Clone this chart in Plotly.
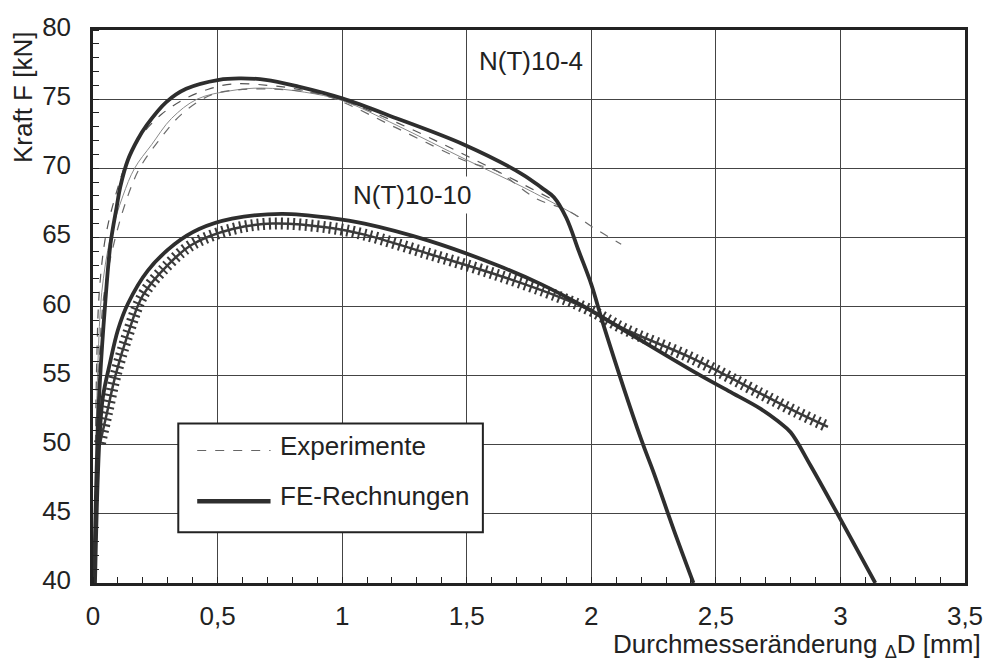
import plotly.graph_objects as go

# Kraft-Durchmesseränderungs-Kurven, Proben N(T)10-4 und N(T)10-10

# FE-Rechnung N(T)10-4
fe4_x = [0.004, 0.012, 0.019, 0.028, 0.048, 0.07, 0.095, 0.11, 0.14, 0.18, 0.215, 0.295, 0.374,
         0.506, 0.586, 0.693, 0.825, 1.0, 1.22, 1.49, 1.72, 1.80, 1.85, 1.90, 1.95, 2.0,
         2.05, 2.2, 2.25, 2.33, 2.41]
fe4_y = [40.0, 46.5, 51.1, 54.7, 60.0, 64.5, 67.2, 68.7, 70.6, 72.1, 73.1, 74.8, 75.75,
         76.4, 76.5, 76.4, 75.9, 75.05, 73.6, 71.7, 69.6, 68.6, 67.9, 66.4, 64.0, 61.6,
         58.6, 50.4, 48.0, 43.9, 40.0]

# FE-Rechnung N(T)10-10
fe10_x = [0.008, 0.018, 0.028, 0.04, 0.068, 0.1, 0.14, 0.22, 0.327, 0.426, 0.558, 0.757,
          0.956, 1.09, 1.35, 1.62, 1.80, 1.97, 2.13, 2.42, 2.55, 2.68, 2.75, 2.80, 2.88,
          3.14]
fe10_y = [40.0, 47.0, 51.1, 53.5, 55.9, 58.3, 60.2, 62.6, 64.5, 65.6, 66.35, 66.7,
          66.4, 66.0, 64.75, 63.0, 61.6, 60.0, 58.3, 55.2, 53.9, 52.6, 51.7, 50.9, 48.5,
          40.0]

# Experimente N(T)10-4 (drei Versuche)
exp4a_x = [0.01, 0.015, 0.025, 0.05, 0.09, 0.14, 0.195, 0.275, 0.366, 0.46, 0.56, 0.7,
           0.825, 1.0, 1.22, 1.5, 1.73, 1.87]
exp4a_y = [50.0, 56.0, 61.0, 65.0, 68.0, 70.7, 72.4, 73.9, 75.0, 75.7, 76.1, 76.0,
           75.7, 74.9, 73.3, 70.9, 68.8, 67.5]
exp4b_x = [0.012, 0.02, 0.035, 0.07, 0.12, 0.167, 0.235, 0.315, 0.418, 0.55, 0.68, 0.85,
           1.0, 1.22, 1.5, 1.73, 1.95]
exp4b_y = [50.0, 56.0, 61.0, 65.0, 68.0, 70.0, 71.7, 73.6, 75.0, 75.6, 75.8, 75.5,
           74.9, 73.1, 70.6, 68.6, 66.5]
exp4c_x = [0.015, 0.025, 0.045, 0.09, 0.14, 0.187, 0.26, 0.355, 0.474, 0.6, 0.75, 0.9,
           1.0, 1.22, 1.5, 1.62, 1.78, 1.91, 2.0, 2.12]
exp4c_y = [50.0, 56.0, 61.0, 65.0, 68.0, 70.0, 71.9, 73.9, 75.3, 75.7, 75.7, 75.4,
           74.8, 72.9, 70.5, 69.8, 67.8, 66.9, 65.8, 64.5]

# Experiment N(T)10-10
exp10_x = [0.028, 0.056, 0.09, 0.14, 0.2, 0.3, 0.4, 0.56, 0.72, 0.95, 1.09, 1.35,
           1.62, 1.87, 2.0, 2.13, 2.4, 2.68, 2.82, 2.95]
exp10_y = [50.1, 52.3, 55.0, 58.0, 60.8, 63.0, 64.5, 65.6, 66.0, 65.7, 65.2, 63.8,
           62.3, 60.7, 59.7, 58.4, 56.3, 53.7, 52.4, 51.3]

x_ticks = [0, 0.5, 1, 1.5, 2, 2.5, 3, 3.5]
x_tick_labels = ["0", "0,5", "1", "1,5", "2", "2,5", "3", "3,5"]
y_ticks = [40, 45, 50, 55, 60, 65, 70, 75, 80]
y_tick_labels = ["40", "45", "50", "55", "60", "65", "70", "75", "80"]

FONT = "Liberation Sans, Arial, sans-serif"
INK = "#222222"
FS = 26

fig = go.Figure()

exp_styles = [("#555555", "dash", 1.2), ("#8a8a8a", "solid", 1.0), ("#6a6a6a", "dash", 1.2)]
for (xs, ys), (col, dash, w) in zip([(exp4a_x, exp4a_y), (exp4b_x, exp4b_y), (exp4c_x, exp4c_y)],
                                     exp_styles):
    fig.add_trace(go.Scatter(x=xs, y=ys, mode="lines", line_shape="spline",
                             line=dict(color=col, width=w, dash=dash),
                             showlegend=False, hoverinfo="skip"))

# N(T)10-10 experiment: hatched line (short cross bars along the curve)
fig.add_trace(go.Scatter(x=exp10_x, y=exp10_y, mode="lines", line_shape="spline",
                         line=dict(color="#3a3a3a", width=12, dash="2px,4px"),
                         showlegend=False, hoverinfo="skip"))
fig.add_trace(go.Scatter(x=exp10_x, y=exp10_y, mode="lines", line_shape="spline",
                         line=dict(color="#3a3a3a", width=2.5),
                         showlegend=False, hoverinfo="skip"))

for xs, ys in [(fe4_x, fe4_y), (fe10_x, fe10_y)]:
    fig.add_trace(go.Scatter(x=xs, y=ys, mode="lines", line_shape="spline",
                             line=dict(color="#2e2e2e", width=3.8),
                             showlegend=False, hoverinfo="skip"))

# Curve labels
for txt, xa, ya in [("N(T)10-4", 1.76, 77.77), ("N(T)10-10", 1.282, 68.05)]:
    fig.add_annotation(x=xa, y=ya, xref="x", yref="y", text=txt, showarrow=False,
                       font=dict(family=FONT, size=FS, color=INK), bgcolor="white",
                       borderpad=3)

# Legend box
fig.add_shape(type="rect", xref="paper", yref="paper", x0=0.0978, x1=0.4471,
              y0=0.0919, y1=0.2883, line=dict(color=INK, width=2), fillcolor="white",
              layer="above")
fig.add_shape(type="line", xref="paper", yref="paper", x0=0.1195, x1=0.2036,
              y0=0.2396, y1=0.2396, line=dict(color="#666666", width=1.2, dash="dash"),
              layer="above")
fig.add_shape(type="line", xref="paper", yref="paper", x0=0.1195, x1=0.2036,
              y0=0.1477, y1=0.1477, line=dict(color="#2e2e2e", width=4.5),
              layer="above")
for txt, ya in [("Experimente", 0.2486), ("FE-Rechnungen", 0.1568)]:
    fig.add_annotation(x=0.2116, y=ya, xref="paper", yref="paper", text=txt,
                       showarrow=False, xanchor="left", yanchor="middle",
                       font=dict(family=FONT, size=FS, color=INK))

# Axis titles
fig.add_annotation(x=-0.0808, y=1.0, xref="paper", yref="paper", text="Kraft F [kN]",
                   textangle=-90, showarrow=False, xanchor="center", yanchor="top",
                   font=dict(family=FONT, size=FS, color=INK))
fig.add_annotation(x=1.0205, y=-0.113, xref="paper", yref="paper",
                   text="Durchmesseränderung <sub>Δ</sub>D [mm]", showarrow=False,
                   xanchor="right", yanchor="middle",
                   font=dict(family=FONT, size=FS, color=INK))

fig.update_xaxes(range=[0, 3.5], tickvals=x_ticks, ticktext=x_tick_labels,
                 showgrid=True, gridcolor="#444444", gridwidth=1,
                 showline=True, linecolor=INK, linewidth=2.5, mirror=True,
                 ticks="", ticklabelstandoff=8, zeroline=False,
                 tickfont=dict(family=FONT, size=FS, color=INK),
                 minor=dict(dtick=0.1, ticks="inside", ticklen=6, tickcolor=INK,
                            tickwidth=1, showgrid=False))
fig.update_yaxes(range=[40, 80], tickvals=y_ticks, ticktext=y_tick_labels,
                 showgrid=True, gridcolor="#444444", gridwidth=1,
                 showline=True, linecolor=INK, linewidth=2.5, mirror=True,
                 ticks="", ticklabelstandoff=14, ticklabelshift=-3, zeroline=False,
                 tickfont=dict(family=FONT, size=FS, color=INK),
                 minor=dict(dtick=1, ticks="inside", ticklen=6, tickcolor=INK,
                            tickwidth=1, showgrid=False))

fig.update_layout(width=995, height=662, margin=dict(l=93, r=23, t=28, b=79),
                  paper_bgcolor="white", plot_bgcolor="white", showlegend=False)

fig.write_html("out.html")
